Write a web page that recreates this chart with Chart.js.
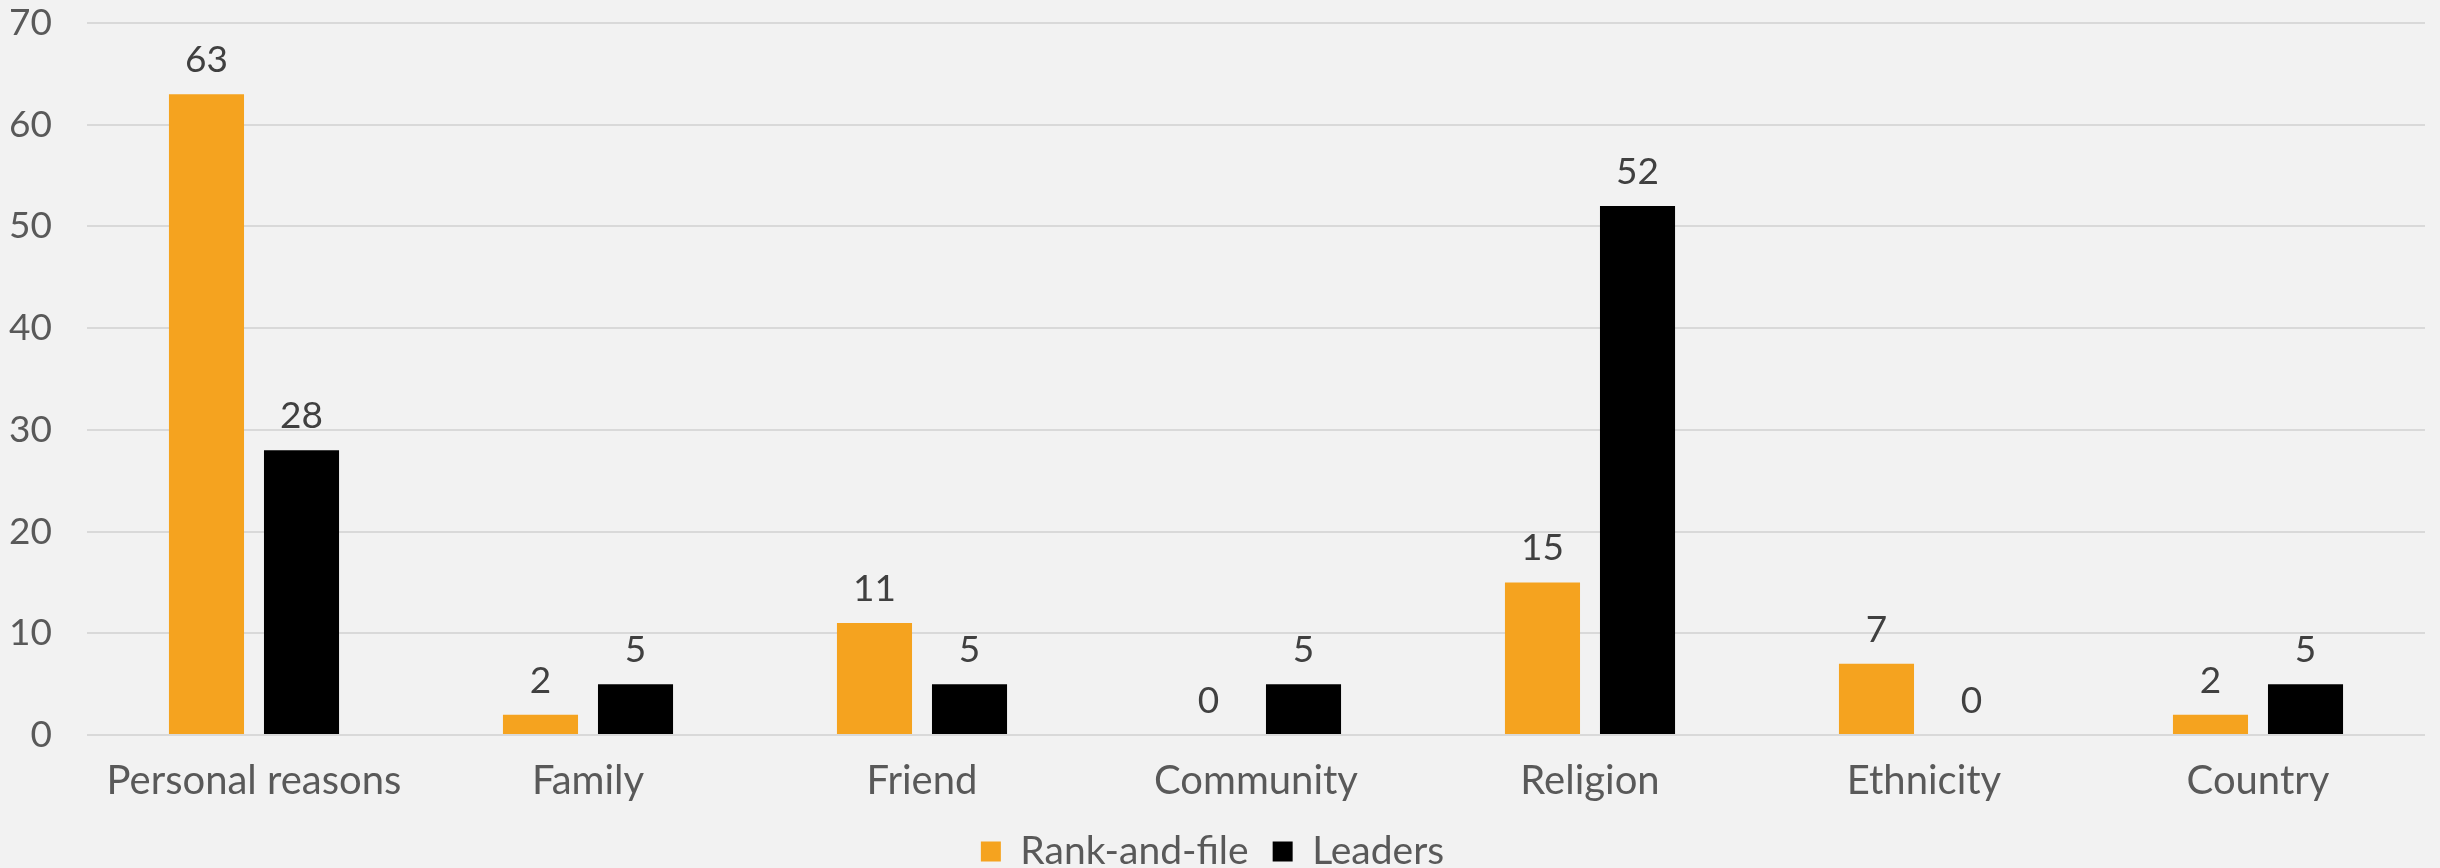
<!DOCTYPE html>
<html>
<head>
<meta charset="utf-8">
<script src="https://cdn.jsdelivr.net/npm/chart.js@4/dist/chart.umd.min.js"></script>
<style>
  html, body { margin: 0; padding: 0; background: #f2f2f2; }
  #wrap { width: 2440px; height: 868px; }
</style>
</head>
<body>
<div id="wrap"><canvas id="reasonsChart"></canvas></div>
<script>
// ====== DATA ======
const categories = ["Personal reasons", "Family", "Friend", "Community", "Religion", "Ethnicity", "Country"];
const rankAndFile = [63, 2, 11, 0, 15, 7, 2];
const leaders = [28, 5, 5, 5, 52, 0, 5];
const seriesNames = ["Rank-and-file", "Leaders"];
const yMax = 70;
const yStep = 10;

const FONT = "Lato, 'Noto Sans', sans-serif";

// ====== VALUE LABELS ABOVE BARS ======
const valueLabels = {
  id: "valueLabels",
  afterDatasetsDraw(chart) {
    const ctx = chart.ctx;
    ctx.save();
    ctx.font = "37px " + FONT;
    ctx.fillStyle = "#404040";
    ctx.textAlign = "center";
    ctx.textBaseline = "middle";
    chart.data.datasets.forEach((ds, i) => {
      chart.getDatasetMeta(i).data.forEach((bar, j) => {
        ctx.fillText(String(ds.data[j]), bar.x, bar.y - 34);
      });
    });
    ctx.restore();
  }
};

new Chart(document.getElementById("reasonsChart"), {
  type: "bar",
  data: {
    labels: categories,
    datasets: [
      { label: seriesNames[0], data: rankAndFile, backgroundColor: "#f5a31f" },
      { label: seriesNames[1], data: leaders, backgroundColor: "#000000" }
    ]
  },
  options: {
    responsive: true,
    maintainAspectRatio: false,
    animation: false,
    categoryPercentage: 0.569,
    barPercentage: 0.79,
    layout: { padding: { top: 0, right: 15, bottom: -13, left: 0 } },
    scales: {
      x: {
        afterFit(scale) { scale.height = 73; },
        grid: { display: false, drawTicks: false },
        border: { display: false },
        ticks: { color: "#595959", font: { family: FONT, size: 40 }, padding: 22, maxRotation: 0 }
      },
      y: {
        min: 0,
        max: yMax,
        afterFit(scale) {
          scale.width = 87;
          scale.paddingTop = 23;
          scale.paddingBottom = 0;
        },
        grid: { color: "#d9d9d9", lineWidth: 2, drawTicks: false },
        border: { display: false },
        ticks: { stepSize: yStep, color: "#595959", font: { family: FONT, size: 37 }, padding: 35 }
      }
    },
    plugins: {
      tooltip: { enabled: false },
      legend: {
        position: "bottom",
        labels: {
          color: "#595959",
          font: { family: FONT, size: 39 },
          boxWidth: 20,
          boxHeight: 20,
          padding: 24
        }
      }
    }
  },
  plugins: [valueLabels]
});
</script>
</body>
</html>
